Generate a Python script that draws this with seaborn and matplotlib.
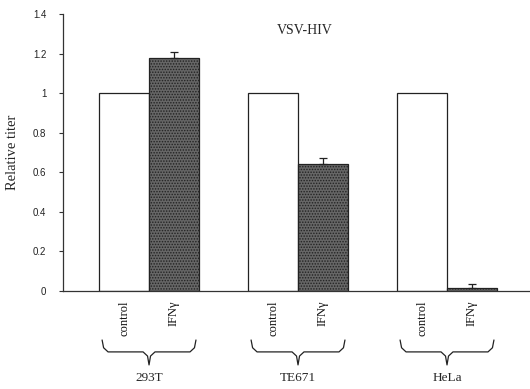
import numpy as np
import pandas as pd
import matplotlib
matplotlib.use("Agg")
import matplotlib.pyplot as plt
import seaborn as sns

# ── Data ──────────────────────────────────────────────────────
cells      = ["293T", "TE671", "HeLa"]
treatments = ["control", "IFNγ"]
control    = [1.0, 1.0, 1.0]
ifn        = [1.18, 0.64, 0.015]
ifn_err    = [0.03, 0.03, 0.02]

SERIF = "Liberation Serif"
SANS  = "Liberation Sans"

sns.set_theme(style="white")
plt.rcParams.update({
    "figure.facecolor": "white",
    "axes.facecolor":   "white",
    "hatch.color":      "#d4d4d4",
    "hatch.linewidth":  0.7,
})

df = pd.DataFrame({
    "cell":      cells * 2,
    "treatment": [treatments[0]] * 3 + [treatments[1]] * 3,
    "value":     control + ifn,
})

fig = plt.figure(figsize=(5.30, 3.89), dpi=100)
ax = fig.add_axes([0.119, 0.252, 0.881, 0.712])

sns.barplot(data=df, x="cell", y="value", hue="treatment", order=cells,
            hue_order=treatments, width=0.67, gap=0, legend=False,
            errorbar=None, ax=ax)

# style bars: control = white, IFNγ = textured grey
n = len(cells)
ctrl_bars = ax.patches[:n]
ifn_bars  = ax.patches[n:2 * n]
for b in ctrl_bars:
    b.set_facecolor("white")
    b.set_edgecolor("#222222")
    b.set_linewidth(0.9)
for b in ifn_bars:
    b.set_facecolor("#666666")
    b.set_edgecolor("#222222")
    b.set_linewidth(0.9)
    b.set_hatch("......")

ifn_x = [b.get_x() + b.get_width() / 2 for b in ifn_bars]
ctl_x = [b.get_x() + b.get_width() / 2 for b in ctrl_bars]
ax.errorbar(ifn_x, ifn, yerr=[np.zeros(n), ifn_err], fmt="none",
            ecolor="#222222", elinewidth=0.9, capsize=3, capthick=0.9)

ax.set_ylim(0, 1.4)
ax.set_xlim(-0.577, 2.557)
ax.set_yticks([0, 0.2, 0.4, 0.6, 0.8, 1.0, 1.2, 1.4])
ax.set_yticklabels(["0", "0.2", "0.4", "0.6", "0.8", "1", "1.2", "1.4"],
                   fontsize=7, family=SANS, color="#222222")
ax.tick_params(axis="y", left=True, length=3, width=0.8, direction="out",
               pad=9, color="#333333")

xt = [v for pair in zip(ctl_x, ifn_x) for v in pair]
ax.set_xticks(xt)
ax.set_xticklabels(treatments * n, rotation=90, fontsize=9, family=SERIF,
                   color="#111111", va="top")
ax.tick_params(axis="x", bottom=False, length=0, pad=7)

ax.set_xlabel("")
ax.set_ylabel("Relative titer", family=SERIF, fontsize=10.5, labelpad=10)
ax.text(0.518, 0.965, "VSV-HIV", transform=ax.transAxes, ha="center",
        va="top", family=SERIF, fontsize=10)

sns.despine(ax=ax)
for s in ["left", "bottom"]:
    ax.spines[s].set_linewidth(0.9)
    ax.spines[s].set_color("#333333")

# braces and group names below the tick labels
trans = ax.get_xaxis_transform()
for i, name in enumerate(cells):
    x0 = ctrl_bars[i].get_x() + 0.02
    x1 = ifn_bars[i].get_x() + ifn_bars[i].get_width() - 0.02
    xm = (x0 + x1) / 2
    top, mid, tip = -0.177, -0.22, -0.267
    xs = [x0, x0 + 0.01, x0 + 0.04, xm - 0.04, xm - 0.01, xm,
          xm + 0.01, xm + 0.04, x1 - 0.04, x1 - 0.01, x1]
    ys = [top, mid + 0.015, mid, mid, mid - 0.015, tip,
          mid - 0.015, mid, mid, mid + 0.015, top]
    ax.plot(xs, ys, transform=trans, clip_on=False, color="#222222",
            lw=0.9, solid_capstyle="round")
    ax.text(xm, -0.292, name, transform=trans, ha="center", va="top",
            family=SERIF, fontsize=9.5)

fig.savefig("out.png", dpi=100)
